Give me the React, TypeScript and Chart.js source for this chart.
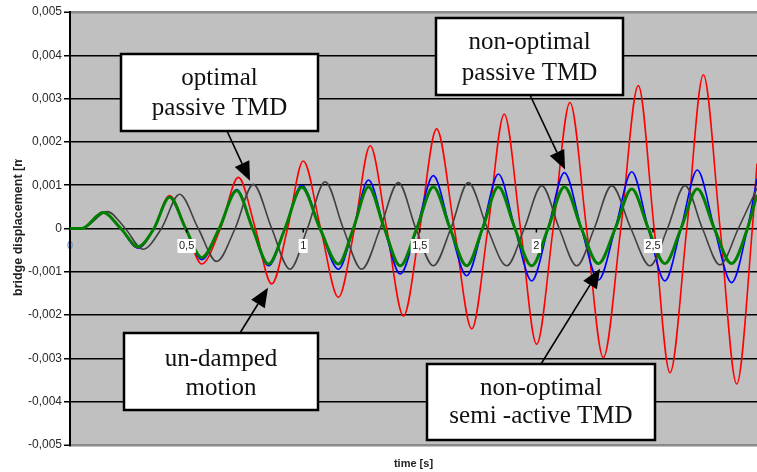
import React, { useEffect, useRef } from 'react';
import { Chart, registerables } from 'chart.js';

Chart.register(...registerables);

// Axis labels
const yTickLabels = ['-0,005', '-0,004', '-0,003', '-0,002', '-0,001', '0', '0,001', '0,002', '0,003', '0,004', '0,005'];
const xTickValues = [0, 0.5, 1, 1.5, 2, 2.5];
const xTickLabels = ['0', '0,5', '1', '1,5', '2', '2,5'];
const timeMax = 2.946;

// Un-damped motion (red)
const undampedTime = [0, 0.05, 0.142, 0.218, 0.292, 0.36, 0.427, 0.497, 0.565, 0.645, 0.722, 0.795, 0.865, 0.933, 1.0, 1.075, 1.151, 1.22, 1.287, 1.358, 1.43, 1.5, 1.572, 1.648, 1.723, 1.792, 1.862, 1.932, 2.001, 2.072, 2.144, 2.215, 2.287, 2.362, 2.437, 2.505, 2.573, 2.645, 2.716, 2.788, 2.859, 2.926, 2.946];
const undampedDisp = [0, 0, 0.00038, 0, -0.00045, 0, 0.00076, 0, -0.00082, 0, 0.00118, 0, -0.00128, 0, 0.00156, 0, -0.00159, 0, 0.00191, 0, -0.00202, 0, 0.0023, 0, -0.00232, 0, 0.00264, 0, -0.00267, 0, 0.00291, 0, -0.00298, 0, 0.0033, 0, -0.00333, 0, 0.00355, 0, -0.00359, 0, 0.0015];

// Non-optimal passive TMD (blue)
const passiveTime = [0, 0.05, 0.142, 0.218, 0.292, 0.36, 0.427, 0.496, 0.565, 0.64, 0.715, 0.783, 0.851, 0.922, 0.994, 1.072, 1.151, 1.215, 1.28, 1.348, 1.416, 1.487, 1.558, 1.63, 1.701, 1.769, 1.837, 1.908, 1.98, 2.05, 2.12, 2.193, 2.266, 2.338, 2.409, 2.48, 2.551, 2.62, 2.69, 2.763, 2.837, 2.905, 2.946];
const passiveDisp = [0, 0, 0.00037, 0, -0.00045, 0, 0.00073, 0, -0.00072, 0, 0.0009, 0, -0.00086, 0, 0.001, 0, -0.00094, 0, 0.00112, 0, -0.00105, 0, 0.00122, 0, -0.00109, 0, 0.00126, 0, -0.00121, 0, 0.00129, 0, -0.00119, 0, 0.00131, 0, -0.00121, 0, 0.00135, 0, -0.00125, 0, 0.00115];

// Non-optimal semi-active TMD (green)
const semiTime = [0, 0.05, 0.142, 0.218, 0.292, 0.36, 0.427, 0.496, 0.565, 0.64, 0.715, 0.783, 0.851, 0.922, 0.994, 1.072, 1.151, 1.215, 1.28, 1.348, 1.416, 1.487, 1.558, 1.63, 1.701, 1.769, 1.837, 1.908, 1.98, 2.05, 2.12, 2.193, 2.266, 2.338, 2.409, 2.48, 2.551, 2.62, 2.69, 2.763, 2.837, 2.905, 2.946];
const semiDisp = [0, 0, 0.00037, 0, -0.00042, 0, 0.00072, 0, -0.00067, 0, 0.00087, 0, -0.00082, 0, 0.00095, 0, -0.00082, 0, 0.00096, 0, -0.00086, 0, 0.00096, 0, -0.00086, 0, 0.00096, 0, -0.00086, 0, 0.00096, 0, -0.00081, 0, 0.00091, 0, -0.00081, 0, 0.00091, 0, -0.00081, 0, 0.00078];

// Optimal passive TMD (dark grey)
const optimalTime = [0, 0.05, 0.16, 0.237, 0.313, 0.392, 0.47, 0.55, 0.629, 0.708, 0.786, 0.865, 0.943, 1.018, 1.094, 1.172, 1.251, 1.33, 1.408, 1.483, 1.558, 1.633, 1.708, 1.79, 1.873, 1.948, 2.023, 2.098, 2.173, 2.248, 2.323, 2.405, 2.487, 2.562, 2.637, 2.712, 2.787, 2.866, 2.946];
const optimalDisp = [0, 0, 0.00039, 0, -0.00048, 0, 0.00079, 0, -0.00076, 0, 0.00102, 0, -0.00094, 0, 0.00108, 0, -0.00094, 0, 0.00106, 0, -0.00086, 0, 0.00106, 0, -0.00086, 0, 0.00099, 0, -0.00086, 0, 0.00099, 0, -0.00086, 0, 0.00099, 0, -0.00084, 0, 0.00093];

// Callout boxes: box = [left, top, width, height] in px, tip = [time, displacement]
const callouts = [
  { lines: ['optimal', 'passive TMD'], box: [121, 54, 197, 77], baselines: [85, 115], from: [227, 131], tip: [0.772, 0.0011] },
  { lines: ['non-optimal', 'passive TMD'], box: [436, 18, 187, 77], baselines: [49, 80], from: [530, 95], tip: [2.123, 0.00136] },
  { lines: ['un-damped', 'motion'], box: [124, 333, 194, 77], baselines: [366, 395], from: [240, 333], tip: [0.849, -0.00137] },
  { lines: ['non-optimal', 'semi -active TMD'], box: [427, 364, 228, 76], baselines: [395, 423], from: [541, 364], tip: [2.273, -0.00093] },
];

const toPoints = (t: number[], v: number[]) => t.map((x, i) => ({ x, y: v[i] }));

const SANS = '"Liberation Sans", Arial, sans-serif';
const SERIF = '"Liberation Serif", "Times New Roman", serif';

const plotBackground = {
  id: 'plotBackground',
  beforeDraw(chart: any) {
    const { ctx, chartArea: a } = chart;
    ctx.save();
    ctx.fillStyle = '#c0c0c0';
    ctx.fillRect(a.left, a.top, a.right - a.left, a.bottom - a.top);
    ctx.restore();
  },
};

const overlay = {
  id: 'overlay',
  afterDatasetsDraw(chart: any) {
    const { ctx, chartArea: a, scales } = chart;
    const xs = scales.x;
    const ys = scales.y;
    const y0 = ys.getPixelForValue(0);
    ctx.save();
    ctx.font = `11px ${SANS}`;
    ctx.textAlign = 'center';
    ctx.textBaseline = 'middle';
    xTickValues.forEach((v, i) => {
      const px = xs.getPixelForValue(v);
      const label = xTickLabels[i];
      if (i === 0) {
        ctx.fillStyle = '#5a8ac6';
        ctx.fillText(label, px, y0 + 17.5);
        ctx.fillStyle = '#000';
        ctx.fillRect(a.left - 1, y0 + 8, 2, 16);
        return;
      }
      ctx.strokeStyle = '#000';
      ctx.lineWidth = 1.5;
      ctx.beginPath();
      ctx.moveTo(px, y0);
      ctx.lineTo(px, y0 + 4);
      ctx.stroke();
      const w = ctx.measureText(label).width;
      ctx.fillStyle = '#fff';
      ctx.fillRect(px - w / 2 - 1.5, y0 + 10.5, w + 3, 14);
      ctx.fillStyle = '#222';
      ctx.fillText(label, px, y0 + 17.5);
    });
    ctx.restore();
  },
  afterDraw(chart: any) {
    const { ctx, chartArea: a, scales } = chart;
    const xs = scales.x;
    const ys = scales.y;
    ctx.save();

    // callouts with arrows pointing at the curves
    callouts.forEach((c) => {
      const [bx, by, bw, bh] = c.box;
      const tx = xs.getPixelForValue(c.tip[0]);
      const ty = ys.getPixelForValue(c.tip[1]);
      const [fx, fy] = c.from;
      const ang = Math.atan2(ty - fy, tx - fx);
      const headLen = 19;
      const headHalf = 8;
      const baseX = tx - headLen * Math.cos(ang);
      const baseY = ty - headLen * Math.sin(ang);
      ctx.strokeStyle = '#000';
      ctx.lineWidth = 1.6;
      ctx.beginPath();
      ctx.moveTo(fx, fy);
      ctx.lineTo(baseX, baseY);
      ctx.stroke();
      ctx.fillStyle = '#000';
      ctx.beginPath();
      ctx.moveTo(tx, ty);
      ctx.lineTo(baseX + headHalf * Math.sin(ang), baseY - headHalf * Math.cos(ang));
      ctx.lineTo(baseX - headHalf * Math.sin(ang), baseY + headHalf * Math.cos(ang));
      ctx.closePath();
      ctx.fill();

      ctx.fillStyle = '#fff';
      ctx.fillRect(bx, by, bw, bh);
      ctx.lineWidth = 2.5;
      ctx.strokeStyle = '#000';
      ctx.strokeRect(bx, by, bw, bh);
      ctx.fillStyle = '#111';
      ctx.font = `25px ${SERIF}`;
      ctx.textAlign = 'center';
      ctx.textBaseline = 'alphabetic';
      c.lines.forEach((line, i) => {
        ctx.fillText(line, bx + bw / 2, c.baselines[i]);
      });
    });

    // axis titles
    ctx.fillStyle = '#222';
    ctx.font = `bold 11px ${SANS}`;
    ctx.textAlign = 'center';
    ctx.textBaseline = 'alphabetic';
    ctx.fillText('time [s]', (a.left + a.right) / 2, 467);

    ctx.save();
    ctx.beginPath();
    ctx.rect(0, 159, 40, 313);
    ctx.clip();
    ctx.font = `bold 12.5px ${SANS}`;
    ctx.translate(21.5, 296);
    ctx.rotate(-Math.PI / 2);
    ctx.textAlign = 'left';
    ctx.fillText('bridge displacement [m]', 0, 0);
    ctx.restore();

    ctx.restore();
  },
};

export default function App() {
  const canvasRef = useRef<HTMLCanvasElement | null>(null);

  useEffect(() => {
    const canvas = canvasRef.current;
    if (!canvas) return;
    const line = (data: any, color: string, width: number, order: number) => ({
      data,
      borderColor: color,
      backgroundColor: color,
      borderWidth: width,
      pointRadius: 0,
      fill: false,
      order,
    });
    const chart = new Chart(canvas, {
      type: 'line',
      data: {
        datasets: [
          line(toPoints(semiTime, semiDisp), '#008000', 3, 0),
          line(toPoints(optimalTime, optimalDisp), '#404040', 1.6, 1),
          line(toPoints(passiveTime, passiveDisp), '#0000ff', 1.6, 2),
          line(toPoints(undampedTime, undampedDisp), '#ff0000', 1.6, 3),
        ],
      },
      options: {
        animation: false,
        responsive: false,
        maintainAspectRatio: false,
        devicePixelRatio: 1,
        elements: { line: { cubicInterpolationMode: 'monotone' } },
        layout: { padding: { top: 12, right: 0, bottom: 0, left: 0 } },
        plugins: { legend: { display: false }, tooltip: { enabled: false }, title: { display: false } },
        scales: {
          x: {
            type: 'linear',
            min: 0,
            max: timeMax,
            ticks: { display: false },
            grid: { display: false },
            border: { display: false },
            afterFit: (s: any) => {
              s.height = 27;
            },
          },
          y: {
            type: 'linear',
            min: -0.005,
            max: 0.005,
            ticks: {
              stepSize: 0.001,
              padding: 2,
              color: '#2a2a2a',
              font: { family: SANS, size: 12 },
              callback: (_v: any, i: number) => yTickLabels[i],
            },
            grid: {
              color: (c: any) => (c.index === 0 || c.index === 10 ? '#8a8a8a' : '#000'),
              lineWidth: (c: any) => (c.index === 0 || c.index === 10 ? 2.5 : 1.5),
              tickColor: '#000',
              tickLength: 6,
              tickWidth: 1.5,
            },
            border: { color: '#000', width: 2 },
            afterFit: (s: any) => {
              s.width = 70;
            },
          },
        },
      } as any,
      plugins: [plotBackground, overlay],
    });
    return () => chart.destroy();
  }, []);

  return (
    <div style={{ position: 'absolute', left: 0, top: 0, width: 757, height: 472, background: '#fff' }}>
      <canvas ref={canvasRef} width={757} height={472} style={{ width: 757, height: 472, display: 'block' }} />
    </div>
  );
}
